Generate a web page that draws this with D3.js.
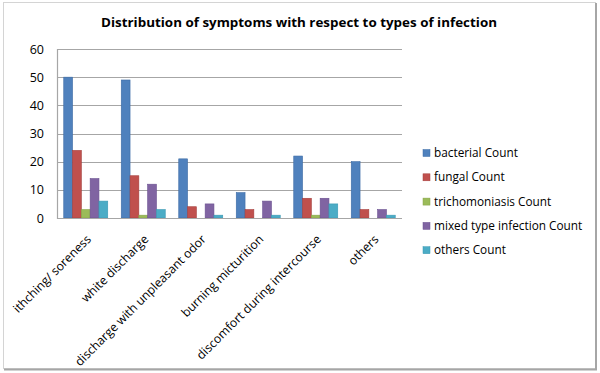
<!DOCTYPE html>
<html>
<head>
<meta charset="utf-8">
<script src="https://cdn.jsdelivr.net/npm/d3@7"></script>
<style>
  body { margin: 0; background: #fff; }
  text { font-family: 'Open Sans', sans-serif; fill: #000; }
</style>
</head>
<body>
<div id="chart"></div>
<script>
// symptom categories along the x axis
const symptoms = [
  'ithching/ soreness',
  'white discharge',
  'discharge with unpleasant odor',
  'burning micturition',
  'discomfort during intercourse',
  'others'
];

const seriesNames = [
  'bacterial Count',
  'fungal Count',
  'trichomoniasis Count',
  'mixed type infection Count',
  'others Count'
];

const bacterial = [50, 49, 21, 9, 22, 20];
const fungal = [24, 15, 4, 3, 7, 3];
const trichomoniasis = [3, 1, 0, 0, 1, 0];
const mixedType = [14, 12, 5, 6, 7, 3];
const othersCount = [6, 3, 1, 1, 5, 1];

const yTicks = [0, 10, 20, 30, 40, 50, 60];

const colors = ['#4f81bd', '#c0504d', '#9bbb59', '#8064a2', '#4bacc6'];
const strokes = ['#3c6ca6', '#a53f3c', '#86a447', '#6a5090', '#3a98b2'];

const seriesValues = [bacterial, fungal, trichomoniasis, mixedType, othersCount];

const width = 600;
const height = 373;
const plot = { left: 57, right: 402, top: 49, bottom: 218 };

const svg = d3.select('#chart')
  .append('svg')
  .attr('width', width)
  .attr('height', height);

// outer frame
svg.append('rect')
  .attr('x', 3.5).attr('y', 2.5)
  .attr('width', 592).attr('height', 366)
  .attr('fill', '#fff')
  .attr('stroke', '#d4d4d4');
svg.append('path')
  .attr('d', `M596,3V369.5H4`)
  .attr('fill', 'none')
  .attr('stroke', '#a6a6a6')
  .attr('stroke-width', 2);

svg.append('text')
  .attr('x', 299)
  .attr('y', 27)
  .attr('text-anchor', 'middle')
  .attr('font-size', '13px')
  .attr('font-weight', 'bold')
  .attr('textLength', 396)
  .attr('lengthAdjust', 'spacingAndGlyphs')
  .text('Distribution of symptoms with respect to types of infection');

const x0 = d3.scaleBand()
  .domain(symptoms)
  .range([plot.left, plot.right])
  .paddingInner(0)
  .paddingOuter(0);

const groupPad = (x0.bandwidth() - 5 * 8.8) / 2;
const x1 = d3.scaleBand()
  .domain(seriesNames)
  .range([groupPad, x0.bandwidth() - groupPad]);

const y = d3.scaleLinear()
  .domain([0, 60])
  .range([plot.bottom, plot.top]);

// gridlines
svg.append('g')
  .selectAll('line')
  .data(yTicks)
  .join('line')
  .attr('x1', plot.left)
  .attr('x2', plot.right)
  .attr('y1', d => Math.round(y(d)) + 0.5)
  .attr('y2', d => Math.round(y(d)) + 0.5)
  .attr('stroke', '#a6a6a6')
  .attr('stroke-width', 1.2);

svg.append('line')
  .attr('x1', plot.left + 0.5).attr('x2', plot.left + 0.5)
  .attr('y1', plot.top).attr('y2', plot.bottom + 1)
  .attr('stroke', '#a6a6a6')
  .attr('stroke-width', 1.2);

// y labels
const yAxis = svg.append('g')
  .attr('transform', `translate(${plot.left},0)`)
  .call(d3.axisLeft(y).tickValues(yTicks).tickSize(0).tickPadding(13));
yAxis.select('.domain').remove();
yAxis.selectAll('text')
  .attr('font-size', '12.5px')
  .attr('font-family', "'Open Sans', sans-serif")
  .attr('fill', '#000');

// bars
const groups = svg.append('g')
  .selectAll('g')
  .data(symptoms)
  .join('g')
  .attr('transform', d => `translate(${x0(d)},0)`);

groups.selectAll('rect')
  .data((d, i) => seriesNames.map((s, k) => ({ s, k, v: seriesValues[k][i] })))
  .join('rect')
  .filter(d => d.v > 0)
  .attr('x', d => x1(d.s))
  .attr('y', d => y(d.v))
  .attr('width', x1.bandwidth())
  .attr('height', d => y(0) - y(d.v))
  .attr('fill', d => colors[d.k])
  .attr('stroke', d => strokes[d.k])
  .attr('stroke-width', 0.6);

// x labels
const xAxis = svg.append('g')
  .attr('transform', `translate(0,${plot.bottom})`)
  .call(d3.axisBottom(x0).tickSize(0).tickPadding(0));
xAxis.select('.domain')
  .attr('stroke', '#a6a6a6')
  .attr('stroke-width', 1.2)
  .attr('d', `M${plot.left},0.5H${plot.right}`);
xAxis.selectAll('text')
  .attr('font-size', '12.2px')
  .attr('font-family', "'Open Sans', sans-serif")
  .attr('fill', '#000')
  .attr('text-anchor', 'end')
  .attr('dy', '0.35em')
  .attr('transform', 'translate(3,19) rotate(-45)');

// legend
const legend = svg.append('g')
  .attr('transform', 'translate(423,153)');

const items = legend.selectAll('g')
  .data(seriesNames)
  .join('g')
  .attr('transform', (d, i) => `translate(0,${i * 24.3})`);

items.append('rect')
  .attr('x', 0).attr('y', -3.5)
  .attr('width', 7).attr('height', 7)
  .attr('fill', (d, i) => colors[i])
  .attr('stroke', (d, i) => strokes[i])
  .attr('stroke-width', 0.5);

items.append('text')
  .attr('x', 11)
  .attr('y', 0)
  .attr('dy', '0.35em')
  .attr('font-size', '11.8px')
  .text(d => d);
</script>
</body>
</html>
